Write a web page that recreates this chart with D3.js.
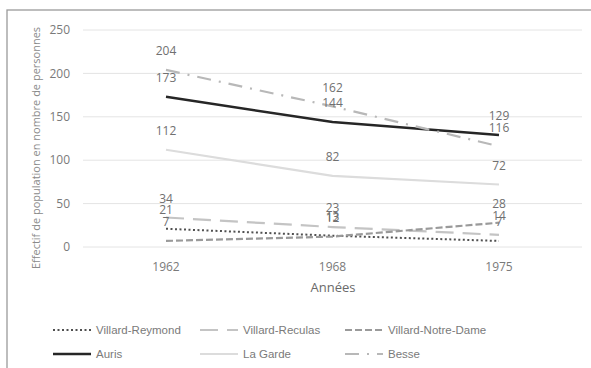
<!DOCTYPE html>
<html><head><meta charset="utf-8">
<script src="https://cdn.jsdelivr.net/npm/d3@7"></script>
<style>body{margin:0;background:#fff}svg{display:block}</style>
</head><body>
<script>
const years = ["1962","1968","1975"];
const villardReymond = [21,13,7];
const villardReculas = [34,23,14];
const villardNotreDame = [7,12,28];
const auris = [173,144,129];
const laGarde = [112,82,72];
const besse = [204,162,116];
const yTicks = [0,50,100,150,200,250];

const series = [
 {name:"Villard-Reymond", values:villardReymond, color:"#505050", width:2, dash:"2,2.5"},
 {name:"Villard-Reculas", values:villardReculas, color:"#c4c4c4", width:2.2, dash:"18,9"},
 {name:"Villard-Notre-Dame", values:villardNotreDame, color:"#9a9a9a", width:2.2, dash:"7,3"},
 {name:"Auris", values:auris, color:"#262626", width:2.5, dash:null},
 {name:"La Garde", values:laGarde, color:"#dcdcdc", width:2.2, dash:null},
 {name:"Besse", values:besse, color:"#b8b8b8", width:2.2, dash:"14,8,2,8"}
];

const W=591,H=368;
const svg=d3.select("body").append("svg").attr("width",W).attr("height",H);
svg.append("rect").attr("x",7).attr("y",10).attr("width",W).attr("height",H).attr("fill","#fff").attr("stroke","#9a9a9a").attr("stroke-width",1.3);

const x=d3.scalePoint().domain(years).range([166,499]).padding(0);
const y=d3.scaleLinear().domain([0,250]).range([247,30]);

const grid=svg.append("g");
grid.selectAll("line").data(yTicks).join("line")
 .attr("x1",83).attr("x2",582).attr("y1",d=>y(d)).attr("y2",d=>y(d))
 .attr("stroke","#e4e4e4").attr("stroke-width",1);

const numFont="'Open Sans', 'Noto Sans', sans-serif";
svg.append("g").selectAll("text").data(yTicks).join("text")
 .attr("x",70).attr("y",d=>y(d)).attr("dy","0.35em").attr("text-anchor","end")
 .attr("font-family",numFont).attr("font-size",12).attr("fill","#7a7a7a").text(d=>d);

svg.append("g").selectAll("text").data(years).join("text")
 .attr("x",d=>x(d)).attr("y",267).attr("dy","0.35em").attr("text-anchor","middle")
 .attr("font-family",numFont).attr("font-size",12).attr("fill","#7a7a7a").text(d=>d);

svg.append("text").attr("x",333).attr("y",287).attr("dy","0.35em").attr("text-anchor","middle")
 .attr("font-family",numFont).attr("font-size",13).attr("fill","#6a6a6a").text("Années");

svg.append("text").attr("transform","translate(36,148) rotate(-90)").attr("dy","0.35em").attr("text-anchor","middle")
 .attr("font-family",numFont).attr("font-size",11).attr("fill","#8a8a8a").text("Effectif de population en nombre de personnes");

const line=d3.line().x((d,i)=>x(years[i])).y(d=>y(d));
const lg=svg.append("g");
series.forEach(s=>{
 lg.append("path").datum(s.values).attr("d",line).attr("fill","none")
  .attr("stroke",s.color).attr("stroke-width",s.width)
  .attr("stroke-dasharray",s.dash).attr("stroke-linejoin","round");
});

const labG=svg.append("g");
series.forEach(s=>{
 labG.selectAll(null).data(s.values).join("text")
  .attr("x",(d,i)=>x(years[i])).attr("y",d=>y(d)-19).attr("dy","0.35em").attr("text-anchor","middle")
  .attr("font-family",numFont).attr("font-size",12).attr("fill","#707070").text(d=>d);
});

const legX=[53,200,345], legY=[330,354];
const leg=svg.append("g");
series.forEach((s,i)=>{
 const cx=legX[i%3], cy=legY[Math.floor(i/3)];
 leg.append("line").attr("x1",cx).attr("x2",cx+38).attr("y1",cy).attr("y2",cy)
  .attr("stroke",s.color).attr("stroke-width",s.width).attr("stroke-dasharray",s.dash);
 leg.append("text").attr("x",cx+43).attr("y",cy).attr("dy","0.35em")
  .attr("font-family","'Liberation Sans', Arial, sans-serif").attr("font-size",11.5).attr("fill","#7a7a7a").text(s.name);
});
</script>
</body></html>
